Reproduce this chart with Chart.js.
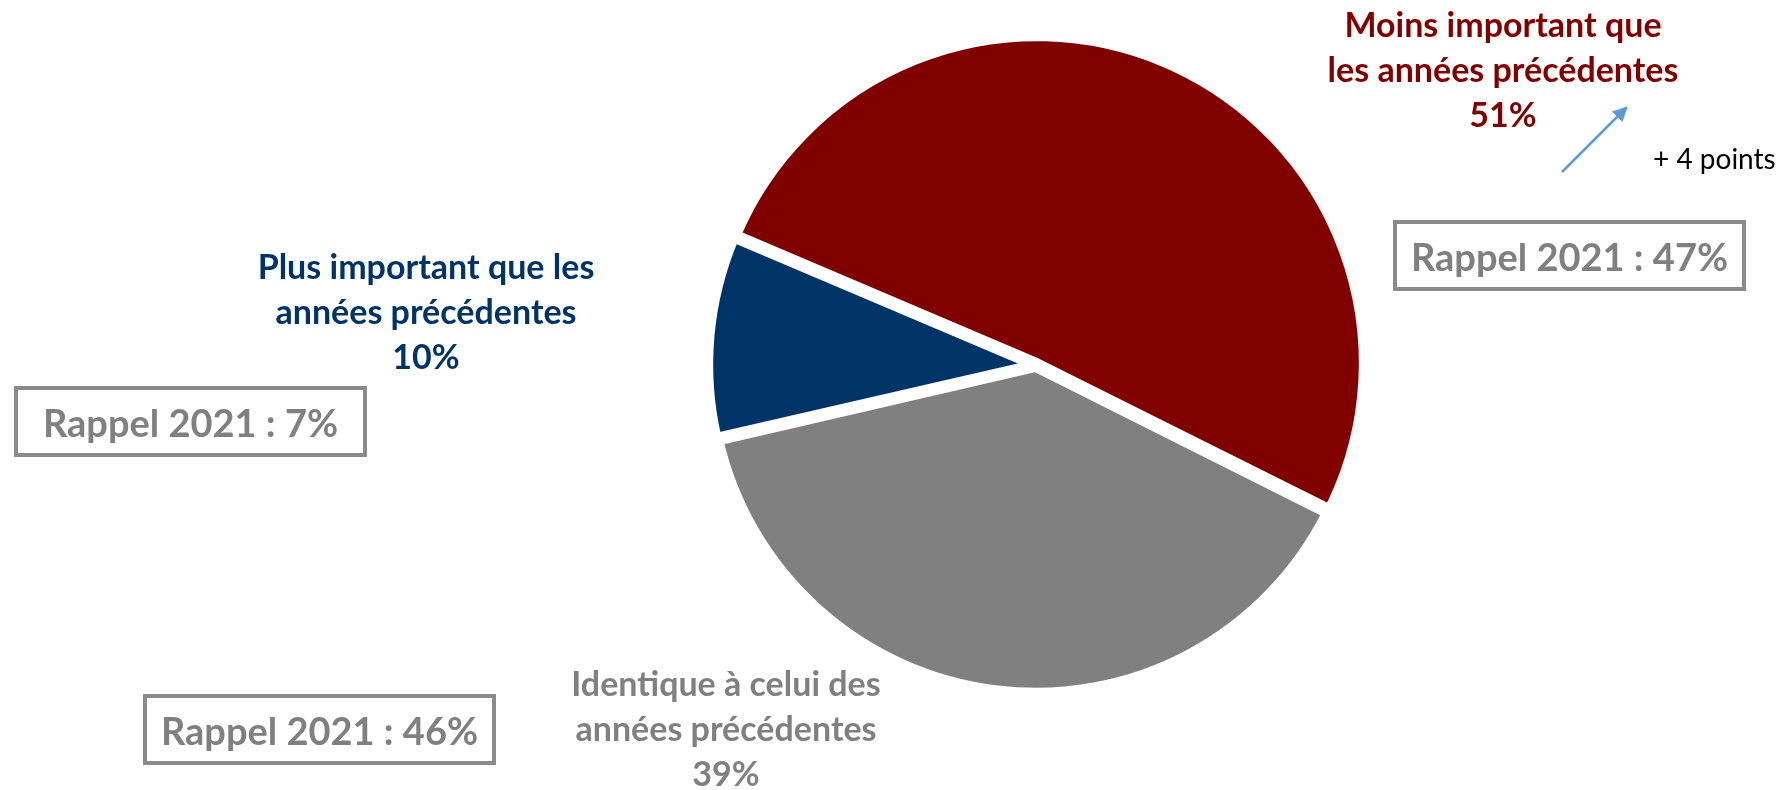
<!DOCTYPE html>
<html lang="fr">
<head>
<meta charset="utf-8">
<title>Rappel 2021</title>
<script src="https://cdn.jsdelivr.net/npm/chart.js@4"></script>
<style>
    body { margin: 0; background: #fff; }
    #wrap { position: relative; width: 1778px; height: 790px; overflow: hidden; font-family: Lato, "Open Sans", sans-serif; }
    #pie { position: absolute; left: 0; top: 0; }
    .lbl { position: absolute; width: 460px; text-align: center; font-weight: bold; font-size: 34px; line-height: 45px; white-space: nowrap; }
    .box { position: absolute; width: 345px; height: 63px; border: 4px solid #8a8a8a; color: #808080; font-weight: bold; font-size: 38px;
           display: flex; align-items: center; justify-content: center; white-space: nowrap; }
    #delta { position: absolute; left: 1653px; top: 140px; font-size: 28px; line-height: 36px; color: #000; white-space: nowrap; }
    #arrow { position: absolute; left: 0; top: 0; }
</style>
</head>
<body>
<div id="wrap">
    <canvas id="pie" width="1778" height="790"></canvas>
    <svg id="arrow" width="1778" height="790">
        <defs>
            <marker id="head" markerWidth="6" markerHeight="6" refX="5" refY="3" orient="auto">
                <path d="M0,0 L6,3 L0,6 z" fill="#5b9bd5"></path>
            </marker>
        </defs>
        <line x1="1562" y1="172" x2="1626" y2="108" stroke="#5b9bd5" stroke-width="2.5" marker-end="url(#head)"></line>
    </svg>
    <div id="delta"></div>
</div>
<script>
// 2022 answers, drawn clockwise starting from the red slice
const categories = ['Moins important que les années précédentes', 'Identique à celui des années précédentes', 'Plus important que les années précédentes'];
const labelLines = [
    ['Moins important que', 'les années précédentes'],
    ['Identique à celui des', 'années précédentes'],
    ['Plus important que les', 'années précédentes']
];
const values2022 = [51, 39, 10];
const rappel2021 = [47, 46, 7];
const deltaText = '+ 4 points';

const colors = ['#800000', '#808080', '#003366'];
// where each category's texts sit on the page
const labelPos = [{ cx: 1503, top: 1 }, { cx: 726, top: 660 }, { cx: 426, top: 243 }];
const boxPos = [{ left: 1393, top: 220 }, { left: 143, top: 694 }, { left: 14, top: 386 }];

const wrap = document.getElementById('wrap');
categories.forEach((cat, i) => {
    const lbl = document.createElement('div');
    lbl.className = 'lbl';
    lbl.style.color = colors[i];
    lbl.style.left = (labelPos[i].cx - 230) + 'px';
    lbl.style.top = labelPos[i].top + 'px';
    lbl.innerHTML = labelLines[i].join('<br>') + '<br>' + values2022[i] + '%';
    wrap.appendChild(lbl);

    const box = document.createElement('div');
    box.className = 'box';
    box.style.left = boxPos[i].left + 'px';
    box.style.top = boxPos[i].top + 'px';
    box.textContent = 'Rappel 2021 : ' + rappel2021[i] + '%';
    wrap.appendChild(box);
});
document.getElementById('delta').textContent = deltaText;

new Chart(document.getElementById('pie').getContext('2d'), {
    type: 'pie',
    data: {
        labels: categories,
        datasets: [{
            data: values2022,
            backgroundColor: colors,
            borderColor: '#ffffff',
            borderWidth: 10,
            offset: 8,
            hoverOffset: 0
        }]
    },
    options: {
        responsive: false,
        animation: false,
        devicePixelRatio: 1,
        rotation: -67,
        layout: { padding: { left: 702, right: 408, top: 31, bottom: 91 } },
        plugins: {
            legend: { display: false },
            tooltip: { enabled: false }
        }
    }
});
</script>
</body>
</html>
